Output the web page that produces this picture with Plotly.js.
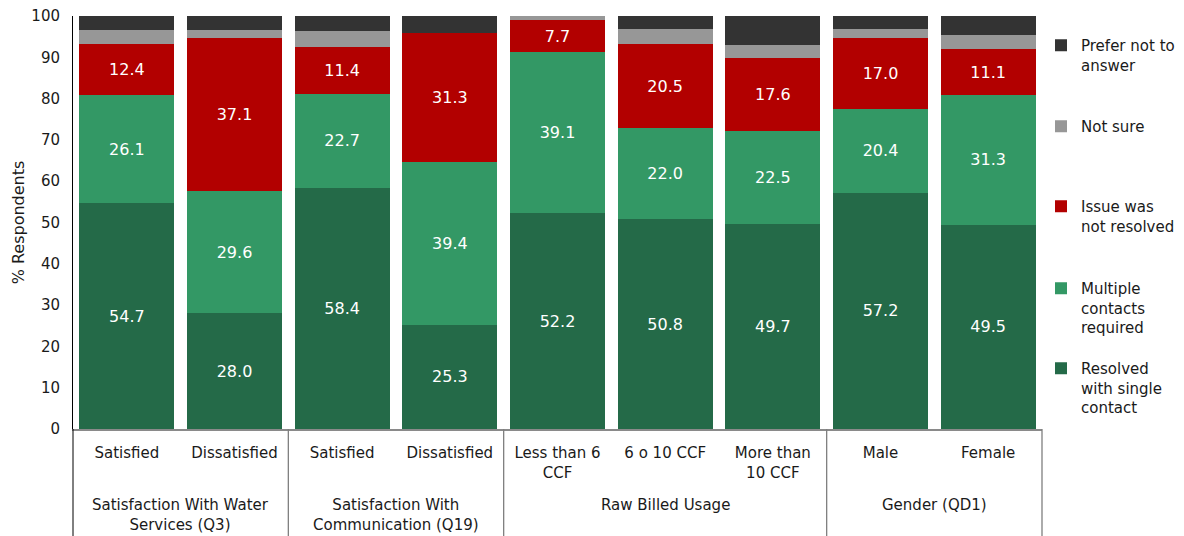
<!DOCTYPE html>
<html>
<head>
<meta charset="utf-8">
<script src="https://cdn.plot.ly/plotly-3.0.1.min.js"></script>
<style>
  html, body { margin: 0; padding: 0; background: #fff; }
  #chart { width: 1184px; height: 536px; }
</style>
</head>
<body>
<div id="chart"></div>
<script>
// ---- Data ----
const categories = ['Satisfied', 'Dissatisfied', 'Satisfied', 'Dissatisfied',
  'Less than 6<br>CCF', '6 o 10 CCF', 'More than<br>10 CCF', 'Male', 'Female'];
const groupLabels = ['Satisfaction With Water<br>Services (Q3)',
  'Satisfaction With<br>Communication (Q19)', 'Raw Billed Usage', 'Gender (QD1)'];
const groupSizes = [2, 2, 3, 2];

const resolvedSingle   = [54.7, 28.0, 58.4, 25.3, 52.2, 50.8, 49.7, 57.2, 49.5];
const multipleContacts = [26.1, 29.6, 22.7, 39.4, 39.1, 22.0, 22.5, 20.4, 31.3];
const notResolved      = [12.4, 37.1, 11.4, 31.3, 7.7, 20.5, 17.6, 17.0, 11.1];
const notSure          = [3.3, 1.8, 3.9, 0.0, 1.0, 3.6, 3.2, 2.2, 3.6];
const preferNot        = [3.5, 3.5, 3.6, 4.0, 0.0, 3.1, 7.0, 3.2, 4.5];

const seriesNames = ['Resolved<br>with single<br>contact', 'Multiple<br>contacts<br>required',
  'Issue was<br>not resolved', 'Not sure', 'Prefer not to<br>answer'];
const seriesValues = [resolvedSingle, multipleContacts, notResolved, notSure, preferNot];
const seriesColors = ['#246a48', '#339865', '#b20000', '#979797', '#333333'];
const labelled = [true, true, true, false, false];

// ---- Layout geometry (pixels) ----
const W = 1184, H = 536;
const M = { l: 73, r: 142, t: 16, b: 107 };
const plotH = H - M.t - M.b;
const py = p => (H - M.b - p) / plotH;        // pixel y -> paper y
const cy = p => 1 - p / H;                    // pixel y -> container y
const cx = p => p / W;                        // pixel x -> container x

const xIdx = categories.map((_, i) => i);
const FONT = 'DejaVu Sans, Verdana, sans-serif';
const TXT = '#1a1a1a';

// legend top pixel positions (top to bottom: Prefer, Not sure, Issue, Multiple, Resolved)
const legendTopPx = [29, 110, 190, 272, 352];

const traces = seriesValues.map((vals, k) => {
  const t = {
    type: 'bar',
    name: seriesNames[k],
    x: xIdx,
    y: vals,
    marker: { color: seriesColors[k], line: { width: 0 } },
    hoverinfo: 'skip',
    legend: 'legend' + (k === 4 ? '' : (5 - k)),
  };
  if (labelled[k]) {
    t.text = vals.map(v => v.toFixed(1));
    t.textposition = 'inside';
    t.insidetextanchor = 'middle';
    t.textangle = 0;
    t.textfont = { family: FONT, size: 16, color: '#ffffff' };
    t.constraintext = 'none';
  } else {
    t.textposition = 'none';
  }
  return t;
});

const legendBase = {
  xref: 'container', yref: 'container',
  x: cx(1041), xanchor: 'left', yanchor: 'top',
  font: { family: FONT, size: 15, color: TXT },
  bgcolor: 'rgba(0,0,0,0)', borderwidth: 0,
  valign: 'top', itemclick: false, itemdoubleclick: false,
};
const legends = {};
[4, 3, 2, 1, 0].forEach((k, i) => {
  const key = k === 4 ? 'legend' : 'legend' + (5 - k);
  legends[key] = Object.assign({}, legendBase, { y: cy(legendTopPx[i]) });
});

// group annotations + dividers
const annotations = [];
const shapes = [];
let start = 0;
const nCat = categories.length;
const xToPaper = v => (v + 0.5) / nCat;
shapes.push({ type: 'line', xref: 'paper', yref: 'paper', x0: 0, x1: 0, y0: 0, y1: py(H),
  line: { color: '#000000', width: 1 } });
groupLabels.forEach((g, gi) => {
  const end = start + groupSizes[gi] - 1;
  annotations.push({
    xref: 'paper', yref: 'paper', x: xToPaper((start + end) / 2), y: py(494),
    xanchor: 'center', yanchor: 'top', showarrow: false, text: g, align: 'center',
    font: { family: FONT, size: 15, color: TXT },
  });
  shapes.push({ type: 'line', xref: 'paper', yref: 'paper',
    x0: xToPaper(end + 0.5), x1: xToPaper(end + 0.5), y0: 0, y1: py(H),
    line: { color: '#7f7f7f', width: 1.3 } });
  start = end + 1;
});

const layout = Object.assign({
  width: W, height: H,
  margin: Object.assign({ autoexpand: false }, M),
  paper_bgcolor: '#ffffff', plot_bgcolor: '#ffffff',
  barmode: 'stack',
  bargap: 0.115,
  showlegend: true,
  font: { family: FONT, color: TXT, size: 15 },
  xaxis: {
    range: [-0.5, nCat - 0.5],
    tickmode: 'array', tickvals: xIdx, ticktext: categories,
    showgrid: false, zeroline: false,
    showline: true, linecolor: '#8a8a8a', linewidth: 2,
    ticks: '', ticklabelstandoff: 9,
    tickfont: { family: FONT, size: 15, color: TXT },
    fixedrange: true,
  },
  yaxis: {
    range: [0, 100], dtick: 10, tick0: 0,
    showgrid: false, zeroline: false,
    showline: true, linecolor: '#000000', linewidth: 1,
    ticks: '', ticklabelstandoff: 9,
    tickfont: { family: FONT, size: 15, color: TXT },
    title: { text: '% Respondents', font: { family: FONT, size: 16, color: TXT }, standoff: 2 },
    fixedrange: true,
  },
  annotations: annotations,
  shapes: shapes,
}, legends);

Plotly.newPlot('chart', traces, layout, { displayModeBar: false, staticPlot: true });
</script>
</body>
</html>
